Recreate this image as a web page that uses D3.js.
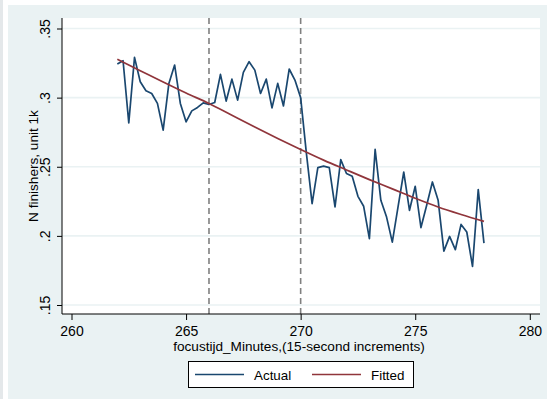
<!DOCTYPE html>
<html>
<head>
<meta charset="utf-8">
<script src="https://cdn.jsdelivr.net/npm/d3@7"></script>
<style>
  body { margin: 0; background: #fff; }
  svg { display: block; }
  text { font-family: Arial, "Liberation Sans", sans-serif; fill: #000; }
</style>
</head>
<body>
<svg id="chart" width="547" height="399"></svg>
<script>
// Finish times in minutes, 15-second steps
const minutes = [
  262, 262.25, 262.5, 262.75, 263, 263.25, 263.5, 263.75,
  264, 264.25, 264.5, 264.75, 265, 265.25, 265.5, 265.75,
  266, 266.25, 266.5, 266.75, 267, 267.25, 267.5, 267.75,
  268, 268.25, 268.5, 268.75, 269, 269.25, 269.5, 269.75,
  270, 270.25, 270.5, 270.75, 271, 271.25, 271.5, 271.75,
  272, 272.25, 272.5, 272.75, 273, 273.25, 273.5, 273.75,
  274, 274.25, 274.5, 274.75, 275, 275.25, 275.5, 275.75,
  276, 276.25, 276.5, 276.75, 277, 277.25, 277.5, 277.75,
  278
];
// Observed number of finishers (thousands)
const actual = [
  0.3243, 0.3267, 0.2817, 0.3291, 0.3115, 0.3050, 0.3030, 0.2958,
  0.2765, 0.3103, 0.3236, 0.2958, 0.2825, 0.2904, 0.2929, 0.2962,
  0.2950, 0.2965, 0.3168, 0.2975, 0.3134, 0.2982, 0.3183, 0.3260,
  0.3199, 0.3030, 0.3134, 0.2926, 0.3103, 0.2940, 0.3207, 0.3127,
  0.3000, 0.2598, 0.2233, 0.2494, 0.2504, 0.2494, 0.2209, 0.2552,
  0.2451, 0.2431, 0.2286, 0.2214, 0.1980, 0.2625, 0.2257, 0.2136,
  0.1955, 0.2210, 0.2462, 0.2185, 0.2359, 0.2060, 0.2221, 0.2390,
  0.2257, 0.1890, 0.1996, 0.1900, 0.2083, 0.2028, 0.1779, 0.2335,
  0.1948
];
// Fitted curve
const fitMinutes = [262, 263, 264, 265, 266, 267, 268, 269, 270, 271, 272, 273, 274, 275, 276, 277, 278];
const fitted = [0.3277, 0.3195, 0.3113, 0.3033, 0.2958, 0.2873, 0.2788, 0.2705, 0.2625,
                0.2548, 0.2477, 0.2407, 0.2340, 0.2272, 0.2209, 0.2155, 0.2105];

const xTicks = [260, 265, 270, 275, 280];
const yTicks = [0.15, 0.2, 0.25, 0.3, 0.35];
const yTickLabels = [".15", ".2", ".25", ".3", ".35"];
const markerMinutes = [266, 270];
const seriesNames = ["Actual", "Fitted"];

const colActual = "#1a476f";
const colFitted = "#90353b";
const panel = "#eaf2f3";
const fontFamily = "Arial, 'Liberation Sans', sans-serif";

const svg = d3.select("#chart");

// Outer graph region
svg.append("rect").attr("x", 0).attr("y", 0).attr("width", 547).attr("height", 399).attr("fill", "#fff");
svg.append("rect").attr("x", 0).attr("y", 0).attr("width", 3).attr("height", 399).attr("fill", "#e4e8ea");
svg.append("rect").attr("x", 8).attr("y", 5).attr("width", 539).attr("height", 394).attr("fill", panel);

// Plot region
const plot = { left: 62, right: 540, top: 18, bottom: 314 };
svg.append("rect")
  .attr("x", plot.left).attr("y", plot.top)
  .attr("width", plot.right - plot.left).attr("height", plot.bottom - plot.top)
  .attr("fill", "#fff");

const x = d3.scaleLinear().domain([260, 280]).range([71.5, 529.8]);
const y = d3.scaleLinear().domain([0.15, 0.35]).range([305, 28.5]);

// Horizontal grid lines
svg.append("g").selectAll("line").data(yTicks).join("line")
  .attr("x1", plot.left).attr("x2", plot.right)
  .attr("y1", d => y(d)).attr("y2", d => y(d))
  .attr("stroke", panel).attr("stroke-width", 1.6);

// Vertical reference lines
svg.append("g").selectAll("line").data(markerMinutes).join("line")
  .attr("x1", d => x(d)).attr("x2", d => x(d))
  .attr("y1", plot.top).attr("y2", plot.bottom)
  .attr("stroke", "#808080").attr("stroke-width", 1.6)
  .attr("stroke-dasharray", "6,4");

// Series
const actualLine = d3.line().x((d, i) => x(minutes[i])).y(d => y(d));
const fitLine = d3.line().x((d, i) => x(fitMinutes[i])).y(d => y(d)).curve(d3.curveMonotoneX);

svg.append("path").datum(actual).attr("d", actualLine)
  .attr("fill", "none").attr("stroke", colActual).attr("stroke-width", 1.7)
  .attr("stroke-linejoin", "round");
svg.append("path").datum(fitted).attr("d", fitLine)
  .attr("fill", "none").attr("stroke", colFitted).attr("stroke-width", 1.7);

// Axes
const xAxis = svg.append("g").attr("transform", `translate(0,${plot.bottom})`)
  .call(d3.axisBottom(x).tickValues(xTicks).tickSize(6).tickPadding(6).tickFormat(d3.format("d")));
xAxis.select(".domain").remove();
xAxis.selectAll("line").attr("stroke", "#000");
xAxis.selectAll("text").attr("font-size", 14).attr("font-family", fontFamily);

const yAxis = svg.append("g").attr("transform", `translate(${plot.left},0)`)
  .call(d3.axisLeft(y).tickValues(yTicks).tickSize(5).tickFormat((d, i) => yTickLabels[i]));
yAxis.select(".domain").remove();
yAxis.selectAll("line").attr("stroke", "#000");
yAxis.selectAll("text")
  .attr("x", 0).attr("dy", 0)
  .attr("transform", "translate(-12,0) rotate(-90)")
  .attr("text-anchor", "middle")
  .attr("font-size", 14).attr("font-family", fontFamily);

svg.append("line").attr("x1", plot.left).attr("x2", plot.left)
  .attr("y1", plot.top).attr("y2", plot.bottom).attr("stroke", "#000").attr("stroke-width", 1);
svg.append("line").attr("x1", plot.left).attr("x2", plot.right)
  .attr("y1", plot.bottom).attr("y2", plot.bottom).attr("stroke", "#000").attr("stroke-width", 1);

// Axis titles
svg.append("text").attr("x", 299).attr("y", 351).attr("text-anchor", "middle")
  .attr("font-size", 13.6).text("focustijd_Minutes,(15-second increments)");
svg.append("text").attr("transform", "translate(38,166) rotate(-90)").attr("text-anchor", "middle")
  .attr("font-size", 13.6).text("N finishers, unit 1k");

// Legend
const legend = svg.append("g");
legend.append("rect").attr("x", 188.5).attr("y", 361.5).attr("width", 225).attr("height", 26)
  .attr("fill", "#fff").attr("stroke", "#000").attr("stroke-width", 1);
const legendItems = [
  { name: seriesNames[0], color: colActual, x0: 195 },
  { name: seriesNames[1], color: colFitted, x0: 312 }
];
legendItems.forEach(it => {
  legend.append("line").attr("x1", it.x0).attr("x2", it.x0 + 49)
    .attr("y1", 374.5).attr("y2", 374.5).attr("stroke", it.color).attr("stroke-width", 1.7);
  legend.append("text").attr("x", it.x0 + 59).attr("y", 379.5)
    .attr("font-size", 13.4).text(it.name);
});
</script>
</body>
</html>
